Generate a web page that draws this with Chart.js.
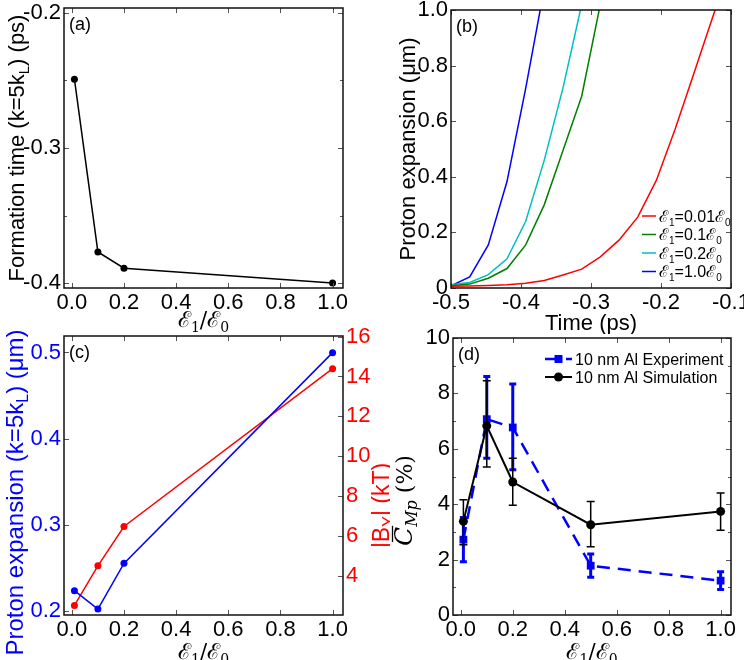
<!DOCTYPE html>
<html>
<head>
<meta charset="utf-8">
<script src="https://cdn.jsdelivr.net/npm/chart.js@4.4.1/dist/chart.umd.min.js"></script>
<style>
  html, body { margin: 0; padding: 0; background: #fff; width: 744px; height: 660px; overflow: hidden; }
  canvas { position: absolute; }
</style>
</head>
<body>
<canvas id="pa" width="372" height="334" style="left:0;top:0"></canvas>
<canvas id="pb" width="390" height="334" style="left:372px;top:0"></canvas>
<canvas id="pc" width="390" height="360" style="left:0;top:300px"></canvas>
<canvas id="pd" width="374" height="360" style="left:388px;top:300px"></canvas>
<script>
// ---- data ----
// (a) formation time vs E1/E0
const ratioA = [0.01, 0.1, 0.2, 1.0];
const formationTime = [-0.249, -0.377, -0.389, -0.400];

// (b) proton expansion vs time, one curve per E1/E0
const timePs = [-0.5, -0.4733, -0.4467, -0.42, -0.3933, -0.3667, -0.34, -0.3133,
                -0.2867, -0.26, -0.2333, -0.2067, -0.18, -0.1533, -0.1267, -0.1];
const exp001 = [0.006, 0.007, 0.009, 0.012, 0.017, 0.027, 0.047, 0.068,
                0.112, 0.172, 0.255, 0.387, 0.57, 0.77, 0.97, 1.17];
const exp01 = [0.008, 0.014, 0.035, 0.07, 0.155, 0.30, 0.495, 0.69, 1.02];
const exp02 = [0.012, 0.02, 0.048, 0.105, 0.24, 0.46, 0.72, 1.02];
const exp10 = [0.008, 0.04, 0.155, 0.383, 0.718, 1.08];
const curveLabels = ['ℰ₁=0.01ℰ₀', 'ℰ₁=0.1ℰ₀', 'ℰ₁=0.2ℰ₀', 'ℰ₁=1.0ℰ₀'];

// (c) proton expansion and |B_Y| vs E1/E0
const ratioC = [0.01, 0.1, 0.2, 1.0];
const expansionK5 = [0.2236, 0.2023, 0.2553, 0.4998];
const bField = [2.51, 4.5, 6.47, 14.39];

// (d) C_Mp experiment vs simulation
const ratioD = [0.01, 0.1, 0.2, 0.5, 1.0];
const cmpExp = [2.72, 7.07, 6.77, 1.78, 1.24];
const cmpExpLo = [1.92, 5.66, 5.24, 1.36, 0.92];
const cmpExpHi = [3.52, 8.61, 8.34, 2.2, 1.56];
const cmpSim = [3.38, 6.83, 4.8, 3.26, 3.74];
const cmpSimLo = [2.54, 5.34, 3.96, 2.46, 3.06];
const cmpSimHi = [4.16, 8.46, 5.66, 4.1, 4.4];

// tick labels
const ratioTicks = [0, 0.2, 0.4, 0.6, 0.8, 1.0];
const timeTicks = [-0.5, -0.4, -0.3, -0.2, -0.1];
const aYTicks = [-0.4, -0.3, -0.2];
const bYTicks = [0, 0.2, 0.4, 0.6, 0.8, 1.0];
const cYTicks = [0.2, 0.3, 0.4, 0.5];
const cY1Ticks = [4, 6, 8, 10, 12, 14, 16];
const dYTicks = [0, 2, 4, 6, 8, 10];

// ---- helpers ----
const FONT = "'Liberation Sans', Arial, sans-serif";
const SERIF = "'DejaVu Serif', serif";

const fmtSigned = v => (v < 0 ? '-' : '') + Math.abs(v).toFixed(1);
const fmtZero = v => v === 0 ? '0' : v.toFixed(1);
const fmtInt = v => String(v);

function xy(xs, ys) { return ys.map((y, i) => ({ x: xs[i], y: y })); }

function axis(pos, min, max, list, fmt, size, color) {
  const horiz = pos === 'top' || pos === 'bottom';
  return {
    type: 'linear', position: pos, min: min, max: max, bounds: 'data',
    grid: { display: false, drawTicks: false },
    border: { display: false },
    afterBuildTicks: s => { s.ticks = list.map(v => ({ value: v })); },
    afterFit: s => {
      if (horiz) { s.height = size; s.paddingLeft = 0; s.paddingRight = 0; }
      else { s.width = size; s.paddingTop = 0; s.paddingBottom = 0; }
    },
    ticks: {
      callback: fmt, color: color || '#000', font: { family: FONT, size: 22 },
      padding: horiz ? 2 : 3, autoSkip: false, maxRotation: 0, minRotation: 0
    }
  };
}

function baseOptions(padding, scales) {
  return {
    responsive: false, animation: false, events: [],
    layout: { padding: padding },
    plugins: { legend: { display: false }, tooltip: { enabled: false } },
    scales: scales
  };
}

// text with subscripts: the ₀/₁ characters become small lowered digits
function subSegs(label, size, family) {
  const map = { '₀': '0', '₁': '1' };
  const segs = [];
  for (const ch of label) {
    const sub = map[ch];
    const font = (sub ? Math.round(size * 0.65) : size) + 'px ' + family;
    const last = segs[segs.length - 1];
    if (last && last.font === font) last.t += sub || ch;
    else segs.push({ t: sub || ch, font: font, dy: sub ? size * 0.25 : 0 });
  }
  return segs;
}

function drawRich(ctx, segs, cx, cy, rot, color, size, align) {
  ctx.save();
  ctx.translate(cx, cy);
  ctx.rotate(rot);
  ctx.fillStyle = color;
  ctx.strokeStyle = color;
  ctx.textAlign = 'left';
  ctx.textBaseline = 'alphabetic';
  const widths = segs.map(s => { ctx.font = s.font; return ctx.measureText(s.t).width; });
  const total = widths.reduce((a, b) => a + b, 0);
  let x = align === 'left' ? 0 : -total / 2;
  const base = size * 0.36;
  segs.forEach((s, i) => {
    ctx.font = s.font;
    ctx.fillText(s.t, x, base + (s.dy || 0));
    if (s.bar) {
      ctx.lineWidth = 1.3;
      ctx.beginPath();
      ctx.moveTo(x + widths[i] * 0.2, base - size * 0.86);
      ctx.lineTo(x + widths[i] * 1.05, base - size * 0.86);
      ctx.stroke();
    }
    x += widths[i];
  });
  ctx.restore();
}

// frame, inward ticks, panel letter, axis titles, legend
function makeDeco(cfg) {
  return {
    id: 'deco',
    afterDraw(chart) {
      const ctx = chart.ctx, a = chart.chartArea;
      ctx.save();
      ctx.strokeStyle = '#555';
      ctx.lineWidth = 1;
      Object.values(chart.scales).forEach(s => {
        const major = s.ticks.map(t => t.value);
        const minor = (cfg.minor && cfg.minor[s.id]) || [];
        major.concat(minor).forEach((v, k) => {
          const len = k < major.length ? 5 : 3;
          const p = Math.round(s.getPixelForValue(v)) + 0.5;
          ctx.beginPath();
          if (s.isHorizontal()) {
            ctx.moveTo(p, a.bottom); ctx.lineTo(p, a.bottom - len);
            ctx.moveTo(p, a.top); ctx.lineTo(p, a.top + len);
          } else {
            if (s.position === 'left' || cfg.mirrorY) { ctx.moveTo(a.left, p); ctx.lineTo(a.left + len, p); }
            if (s.position === 'right' || cfg.mirrorY) { ctx.moveTo(a.right, p); ctx.lineTo(a.right - len, p); }
          }
          ctx.stroke();
        });
      });
      ctx.strokeStyle = '#111';
      ctx.lineWidth = 1.5;
      ctx.strokeRect(a.left, a.top, a.right - a.left, a.bottom - a.top);
      ctx.fillStyle = '#000';
      ctx.font = '18px ' + FONT;
      ctx.textAlign = 'left';
      ctx.textBaseline = 'alphabetic';
      ctx.fillText(cfg.letter, a.left + 5, a.top + 22);
      ctx.restore();

      const midX = (a.left + a.right) / 2, midY = (a.top + a.bottom) / 2;
      cfg.titles.forEach(t => {
        const cx = t.side === 'bottom' ? midX : (t.side === 'left' ? a.left + t.off : a.right + t.off);
        const cy = t.side === 'bottom' ? a.bottom + t.off : midY + (t.shift || 0);
        drawRich(ctx, t.segs, cx, cy, t.side === 'bottom' ? 0 : -Math.PI / 2, t.color || '#000', t.size, 'center');
      });

      if (cfg.legend) {
        const L = cfg.legend;
        chart.data.datasets.forEach((ds, i) => {
          const y = a.top + L.top + i * L.dy;
          const x0 = a.left + L.x0, x1 = a.left + L.x1;
          ctx.save();
          ctx.strokeStyle = ds.borderColor;
          ctx.lineWidth = ds.borderWidth;
          ctx.setLineDash(ds.borderDash || []);
          ctx.beginPath(); ctx.moveTo(x0, y); ctx.lineTo(x1, y); ctx.stroke();
          ctx.setLineDash([]);
          if (L.markers) {
            ctx.fillStyle = ds.pointBackgroundColor;
            const xm = (x0 + x1) / 2;
            if (ds.pointStyle === 'rect') ctx.fillRect(xm - 4, y - 4, 8, 8);
            else { ctx.beginPath(); ctx.arc(xm, y, ds.pointRadius, 0, Math.PI * 2); ctx.fill(); }
          }
          ctx.restore();
          drawRich(ctx, subSegs(ds.label, L.size, FONT), x1 + 3, y, 0, '#000', L.size, 'left');
        });
      }
    }
  };
}

// vertical error bars under each dataset that carries errLow/errHigh
const errorBars = {
  id: 'errorBars',
  beforeDatasetDraw(chart, args) {
    const ds = chart.data.datasets[args.index];
    if (!ds.errLow) return;
    const ctx = chart.ctx, xs = chart.scales.x, ys = chart.scales.y;
    ctx.save();
    ctx.strokeStyle = ds.borderColor;
    ctx.lineWidth = ds.errWidth;
    ds.data.forEach((p, i) => {
      const x = xs.getPixelForValue(p.x);
      const y1 = ys.getPixelForValue(ds.errLow[i]);
      const y2 = ys.getPixelForValue(ds.errHigh[i]);
      ctx.beginPath();
      ctx.moveTo(x, y1); ctx.lineTo(x, y2);
      ctx.moveTo(x - ds.capHalf, y1); ctx.lineTo(x + ds.capHalf, y1);
      ctx.moveTo(x - ds.capHalf, y2); ctx.lineTo(x + ds.capHalf, y2);
      ctx.stroke();
    });
    ctx.restore();
  }
};

const ratioSegs = subSegs('ℰ₁/ℰ₀', 22, SERIF);

// ---- (a) ----
new Chart(document.getElementById('pa'), {
  type: 'line',
  data: { datasets: [{
    data: xy(ratioA, formationTime), borderColor: '#000', borderWidth: 1.5,
    pointRadius: 3.5, pointBorderWidth: 0, pointBackgroundColor: '#000', tension: 0
  }] },
  options: baseOptions({ top: 8, right: 29, left: 0, bottom: 0 }, {
    x: axis('bottom', -0.03, 1.04, ratioTicks, fmtSigned, 46),
    y: axis('left', -0.4037, -0.1963, aYTicks, fmtSigned, 64)
  }),
  plugins: [makeDeco({
    letter: '(a)', mirrorY: true, minor: { y: [-0.35, -0.25] },
    titles: [
      { side: 'left', off: -48, size: 22, segs: [
        { t: 'Formation time (k=5k', font: '22px ' + FONT },
        { t: 'L', font: '15px ' + FONT, dy: 5 },
        { t: ') (ps)', font: '22px ' + FONT }] },
      { side: 'bottom', off: 31, size: 22, segs: ratioSegs }
    ]
  })]
});

// ---- (b) ----
new Chart(document.getElementById('pb'), {
  type: 'line',
  data: { datasets: [
    { label: curveLabels[0], data: xy(timePs, exp001), borderColor: '#ff0000' },
    { label: curveLabels[1], data: xy(timePs, exp01), borderColor: '#008000' },
    { label: curveLabels[2], data: xy(timePs, exp02), borderColor: '#00bfbf' },
    { label: curveLabels[3], data: xy(timePs, exp10), borderColor: '#0000ff' }
  ].map(d => Object.assign(d, { borderWidth: 1.5, pointRadius: 0, tension: 0, clip: 0 })) },
  options: baseOptions({ top: 10, right: 31, left: 0, bottom: 0 }, {
    x: axis('bottom', -0.5, -0.1, timeTicks, fmtSigned, 46),
    y: axis('left', 0, 1, bYTicks, fmtZero, 79)
  }),
  plugins: [makeDeco({
    letter: '(b)', mirrorY: true,
    titles: [
      { side: 'left', off: -44, size: 22, segs: [{ t: 'Proton expansion (μm)', font: '22px ' + FONT }] },
      { side: 'bottom', off: 34, size: 22, segs: [{ t: 'Time (ps)', font: '22px ' + FONT }] }
    ],
    legend: { x0: 191, x1: 205, top: 206, dy: 18.5, size: 16 }
  })]
});

// ---- (c) ----
new Chart(document.getElementById('pc'), {
  type: 'line',
  data: { datasets: [
    { data: xy(ratioC, expansionK5), yAxisID: 'y', borderColor: '#0000ff', pointBackgroundColor: '#0000ff' },
    { data: xy(ratioC, bField), yAxisID: 'y1', borderColor: '#ff0000', pointBackgroundColor: '#ff0000' }
  ].map(d => Object.assign(d, { borderWidth: 1.5, pointRadius: 3.5, pointBorderWidth: 0, tension: 0 })) },
  options: baseOptions({ top: 36, right: 0, left: 0, bottom: 0 }, {
    x: axis('bottom', -0.03, 1.04, ratioTicks, fmtSigned, 45),
    y: axis('left', 0.1954, 0.5191, cYTicks, v => v.toFixed(1), 64, '#0000ff'),
    y1: axis('right', 2.03, 16.03, cY1Ticks, fmtInt, 47, '#ff0000')
  }),
  plugins: [makeDeco({
    letter: '(c)', mirrorY: false,
    titles: [
      { side: 'left', off: -50, shift: 17, size: 24, color: '#0000ff', segs: [
        { t: 'Proton expansion (k=5k', font: '24px ' + FONT },
        { t: 'L', font: '16px ' + FONT, dy: 5 },
        { t: ') (μm)', font: '24px ' + FONT }] },
      { side: 'right', off: 38, shift: 30, size: 23, color: '#ff0000', segs: [
        { t: '|B', font: '23px ' + FONT },
        { t: 'Y', font: '16px ' + FONT, dy: 5 },
        { t: '| (kT)', font: '23px ' + FONT }] },
      { side: 'bottom', off: 36, size: 22, segs: ratioSegs }
    ]
  })]
});

// ---- (d) ----
new Chart(document.getElementById('pd'), {
  type: 'line',
  data: { datasets: [
    { label: '10 nm Al Experiment', data: xy(ratioD, cmpExp), errLow: cmpExpLo, errHigh: cmpExpHi,
      borderColor: '#0000ff', pointBackgroundColor: '#0000ff', borderWidth: 2.5, borderDash: [13, 8],
      pointStyle: 'rect', pointRadius: 5.5, errWidth: 3, capHalf: 3.5, order: 1 },
    { label: '10 nm Al Simulation', data: xy(ratioD, cmpSim), errLow: cmpSimLo, errHigh: cmpSimHi,
      borderColor: '#000', pointBackgroundColor: '#000', borderWidth: 2,
      pointStyle: 'circle', pointRadius: 4.5, errWidth: 1.5, capHalf: 4, order: 0 }
  ].map(d => Object.assign(d, { pointBorderWidth: 0, tension: 0 })) },
  options: baseOptions({ top: 38, right: 31, left: 0, bottom: 0 }, {
    x: axis('bottom', -0.03, 1.04, ratioTicks, fmtSigned, 45),
    y: axis('left', 0, 10, dYTicks, fmtInt, 65)
  }),
  plugins: [errorBars, makeDeco({
    letter: '(d)', mirrorY: true, minor: { y: [1, 3, 5, 7, 9] },
    titles: [
      { side: 'left', off: -49, shift: 24, size: 23, segs: [
        { t: 'C', font: 'italic 25px ' + SERIF, bar: true },
        { t: 'Mp', font: 'italic 16px ' + SERIF, dy: 5 },
        { t: ' (%)', font: '22px ' + SERIF }] },
      { side: 'bottom', off: 36, size: 22, segs: ratioSegs }
    ],
    legend: { x0: 92, x1: 119, top: 21, dy: 18, size: 16, markers: true }
  })]
});
</script>
</body>
</html>
